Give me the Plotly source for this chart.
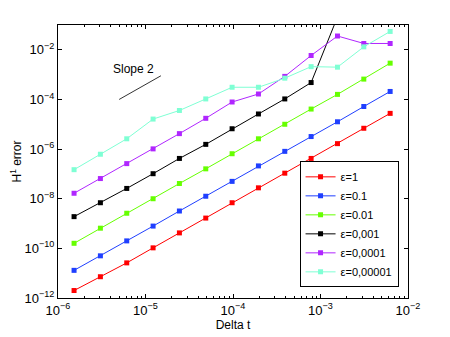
import plotly.graph_objects as go

# time steps (Delta t), halved each refinement
delta_t = [1.526e-6, 3.052e-6, 6.104e-6, 1.221e-5, 2.441e-5, 4.883e-5, 9.766e-5,
           1.953e-4, 3.906e-4, 7.813e-4, 1.563e-3, 3.125e-3, 6.25e-3]

err_eps_1 = [2.0e-12, 7.2e-12, 2.6e-11, 1.05e-10, 4.2e-10, 1.66e-9, 6.9e-9,
             2.75e-8, 1.07e-7, 4.2e-7, 1.66e-6, 6.9e-6, 2.75e-5]
err_eps_01 = [1.3e-11, 5.0e-11, 2.0e-10, 7.9e-10, 3.2e-9, 1.26e-8, 5.0e-8,
              2.1e-7, 8.1e-7, 3.2e-6, 1.26e-5, 5.2e-5, 2.1e-4]
err_eps_001 = [1.6e-10, 6.5e-10, 2.6e-9, 1.0e-8, 4.1e-8, 1.6e-7, 6.5e-7,
               2.6e-6, 1.0e-5, 4.1e-5, 1.6e-4, 6.6e-4, 2.9e-3]
err_eps_0001 = [1.9e-9, 6.9e-9, 2.6e-8, 1.02e-7, 4.2e-7, 1.55e-6, 6.6e-6,
                2.6e-5, 1.05e-4, 4.8e-4, 2.1e-1, None, None]
err_eps_00001 = [1.66e-8, 6.5e-8, 2.6e-7, 1.02e-6, 4.2e-6, 1.74e-5, 7.9e-5,
                 1.66e-4, 8.5e-4, 5.9e-3, 3.6e-2, 1.8e-2, 1.8e-2]
err_eps_000001 = [1.48e-7, 6.2e-7, 2.6e-6, 1.62e-5, 3.6e-5, 1.05e-4, 3.1e-4,
                  3.1e-4, 7.2e-4, 2.1e-3, 2.0e-3, 1.32e-2, 5.5e-2]

labels = ['ε=1', 'ε=0.1', 'ε=0.01', 'ε=0,001', 'ε=0,0001', 'ε=0,00001']
colors = ['#ff0000', '#1f3fff', '#66ff00', '#000000', '#b026ff', '#7fffd4']
series = [err_eps_1, err_eps_01, err_eps_001, err_eps_0001, err_eps_00001, err_eps_000001]

x_ticks = [1e-6, 1e-5, 1e-4, 1e-3, 1e-2]
x_ticklabels = ['10<sup>−6</sup>', '10<sup>−5</sup>', '10<sup>−4</sup>', '10<sup>−3</sup>', '10<sup>−2</sup>']
y_ticks = [1e-12, 1e-10, 1e-8, 1e-6, 1e-4, 1e-2]
y_ticklabels = ['10<sup>−12</sup>', '10<sup>−10</sup>', '10<sup>−8</sup>', '10<sup>−6</sup>',
                '10<sup>−4</sup>', '10<sup>−2</sup>']

# reference slope-2 line
slope_x = [5e-6, 1.5e-5]
slope_y = [1e-4, 9e-4]

fig = go.Figure()
for lab, col, vals in zip(labels, colors, series):
    fig.add_trace(go.Scatter(x=delta_t, y=vals, mode='lines+markers', name=lab,
                             line=dict(color=col, width=1),
                             marker=dict(symbol='square', size=5, color=col),
                             connectgaps=False))

fig.add_trace(go.Scatter(x=slope_x, y=slope_y, mode='lines', showlegend=False,
                         line=dict(color='#333333', width=1)))
fig.add_annotation(x=-5.39, y=-2.76, xref='x', yref='y', text='Slope 2',
                   showarrow=False, xanchor='left', font=dict(size=12, color='black'))

minor_x = [m * 10 ** e for e in range(-6, -2) for m in range(2, 10)]

axis_common = dict(type='log', showgrid=False, zeroline=False, showline=True,
                   linecolor='black', linewidth=1, mirror='allticks', ticks='inside',
                   ticklen=4, tickcolor='black', automargin=False,
                   tickfont=dict(size=13, color='black'))

fig.update_xaxes(range=[-6, -2], tickvals=x_ticks, ticktext=x_ticklabels,
                 minor=dict(tickvals=minor_x, ticks='inside', ticklen=2, tickcolor='black'),
                 title=dict(text='Delta t', font=dict(size=12, color='black'), standoff=4),
                 **axis_common)
fig.update_yaxes(range=[-12, -1], tickvals=y_ticks, ticktext=y_ticklabels,
                 title=dict(text='H<sup>1</sup> error', font=dict(size=12, color='black'), standoff=0),
                 **axis_common)

# page body keeps its 8px default margin, so the figure is a bit smaller
fig.update_layout(width=442, height=329, template='simple_white',
                  paper_bgcolor='white', plot_bgcolor='white',
                  font=dict(family='Arial', color='black'),
                  margin=dict(l=50, r=42, t=17, b=39),
                  legend=dict(x=0.973, y=0.039, xanchor='right', yanchor='bottom',
                              bordercolor='black', borderwidth=1, bgcolor='white',
                              font=dict(size=11), itemwidth=30, tracegroupgap=0))

fig.write_html("out.html")
